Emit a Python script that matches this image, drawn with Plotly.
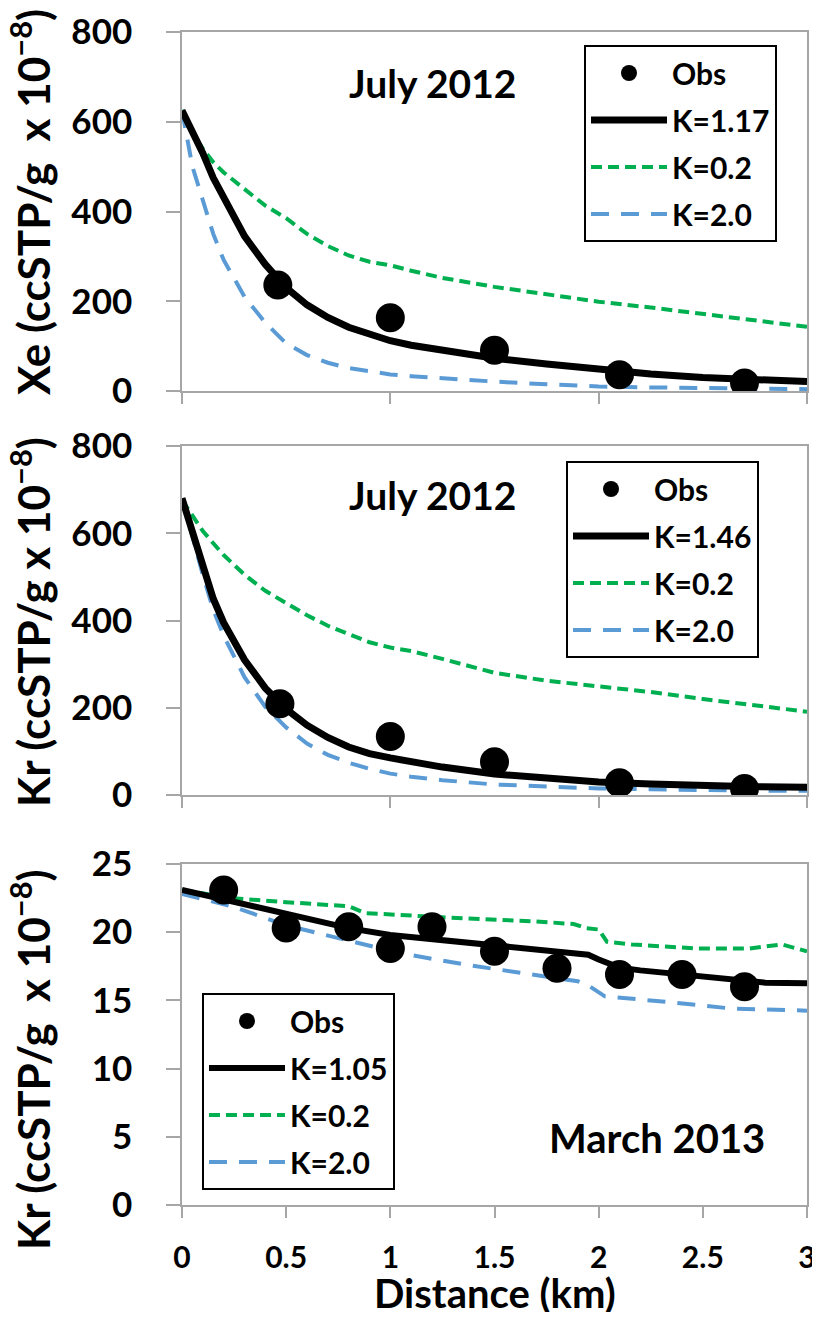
import plotly.graph_objects as go

# ---------------- data ----------------
# Panel 1: Xe, July 2012
xe_obs_x = [0.46, 1.0, 1.5, 2.1, 2.7]
xe_obs_y = [236, 163, 91, 36, 18]
xe_k117_x = [0, 0.05, 0.1, 0.15, 0.2, 0.3, 0.4, 0.5, 0.6, 0.7, 0.8, 0.9, 1.0, 1.1, 1.25, 1.5, 1.75, 2.0, 2.25, 2.5, 2.75, 3.0]
xe_k117_y = [625, 580, 530, 475, 430, 345, 282, 230, 192, 164, 142, 125, 112, 102, 90, 73, 60, 48, 38, 30, 24, 21]
xe_k02_x = [0, 0.05, 0.1, 0.15, 0.2, 0.3, 0.4, 0.5, 0.6, 0.7, 0.8, 0.9, 1.0, 1.1, 1.25, 1.5, 1.75, 2.0, 2.25, 2.5, 2.75, 3.0]
xe_k02_y = [626, 575, 540, 510, 487, 450, 413, 385, 350, 323, 302, 288, 280, 268, 252, 232, 215, 199, 186, 172, 158, 143]
xe_k20_x = [0, 0.05, 0.1, 0.15, 0.2, 0.3, 0.4, 0.5, 0.6, 0.7, 0.8, 0.9, 1.0, 1.1, 1.25, 1.5, 1.75, 2.0, 2.25, 2.5, 2.75, 3.0]
xe_k20_y = [626, 500, 425, 350, 292, 210, 152, 106, 80, 63, 51, 43, 37, 33, 28, 21, 15, 10, 8, 6, 5, 4]

# Panel 2: Kr, July 2012
krj_obs_x = [0.47, 1.0, 1.5, 2.1, 2.7]
krj_obs_y = [209, 134, 76, 28, 15]
krj_k146_x = [0, 0.05, 0.1, 0.15, 0.2, 0.3, 0.4, 0.5, 0.6, 0.7, 0.8, 0.9, 1.0, 1.1, 1.25, 1.5, 1.75, 2.0, 2.25, 2.5, 2.75, 3.0]
krj_k146_y = [680, 600, 525, 450, 395, 310, 245, 197, 160, 132, 110, 95, 85, 76, 64, 48, 38, 30, 25, 21, 19, 18]
krj_k02_x = [0, 0.05, 0.1, 0.15, 0.2, 0.3, 0.4, 0.5, 0.6, 0.7, 0.8, 0.9, 1.0, 1.1, 1.25, 1.5, 1.75, 2.0, 2.25, 2.5, 2.75, 3.0]
krj_k02_y = [676, 640, 605, 577, 550, 505, 468, 440, 412, 388, 368, 350, 338, 330, 312, 280, 262, 250, 236, 220, 206, 191]
krj_k20_x = [0, 0.05, 0.1, 0.15, 0.2, 0.3, 0.4, 0.5, 0.6, 0.7, 0.8, 0.9, 1.0, 1.1, 1.25, 1.5, 1.75, 2.0, 2.25, 2.5, 2.75, 3.0]
krj_k20_y = [680, 590, 505, 425, 365, 270, 202, 155, 118, 92, 74, 60, 49, 42, 34, 24, 19, 15, 13, 11, 10, 10]

# Panel 3: Kr, March 2013
krm_obs_x = [0.2, 0.5, 0.8, 1.0, 1.2, 1.5, 1.8, 2.1, 2.4, 2.7]
krm_obs_y = [23.1, 20.3, 20.4, 18.8, 20.4, 18.6, 17.35, 16.9, 16.9, 16.0]
krm_k105_x = [0, 0.2, 0.5, 0.8, 1.0, 1.2, 1.5, 1.8, 1.95, 2.0, 2.1, 2.2, 2.4, 2.6, 2.8, 3.0]
krm_k105_y = [23.1, 22.4, 21.4, 20.3, 19.8, 19.5, 19.0, 18.6, 18.35, 18.0, 17.4, 17.2, 16.9, 16.5, 16.3, 16.25]
krm_k02_x = [0, 0.24, 0.5, 0.8, 0.88, 1.0, 1.37, 1.69, 1.88, 1.94, 2.0, 2.04, 2.16, 2.48, 2.72, 2.88, 3.0]
krm_k02_y = [23.1, 22.5, 22.2, 21.9, 21.4, 21.3, 21.0, 20.8, 20.6, 20.3, 20.2, 19.3, 19.1, 18.8, 18.8, 19.1, 18.6]
krm_k20_x = [0, 0.24, 0.5, 0.8, 1.0, 1.05, 1.37, 1.69, 1.9, 1.95, 2.03, 2.32, 2.64, 3.0]
krm_k20_y = [22.8, 21.9, 20.5, 19.4, 18.7, 18.45, 17.6, 16.9, 16.4, 16.1, 15.3, 14.9, 14.4, 14.25]

panel_titles = ["Xe (ccSTP/g\u00a0\u00a0x 10<sup>\u22128</sup>)",
                "Kr (ccSTP/g x 10<sup>\u22128</sup>)",
                "Kr (ccSTP/g\u00a0\u00a0x 10<sup>\u22128</sup>)"]
panel_dates = ["July 2012", "July 2012", "March 2013"]
fit_labels = ["K=1.17", "K=1.46", "K=1.05"]
x_ticks = [0, 0.5, 1, 1.5, 2, 2.5, 3]
x_tick_text = ["0", "0.5", "1", "1.5", "2", "2.5", "3"]

# ---------------- style ----------------
OFF = 8                      # default page body margin
W, H = 820 - 2 * OFF, 1320 - 2 * OFF
FONT = "Lato"
GREEN = "#00b050"
BLUE = "#5b9bd5"
AXIS = "#a6a6a6"

def fx(px):
    return (px - OFF) / W

def fy(px):
    return 1 - (px - OFF) / H

fig = go.Figure()

panels = [
    dict(obs=(xe_obs_x, xe_obs_y), fit=(xe_k117_x, xe_k117_y), lo=(xe_k02_x, xe_k02_y), hi=(xe_k20_x, xe_k20_y)),
    dict(obs=(krj_obs_x, krj_obs_y), fit=(krj_k146_x, krj_k146_y), lo=(krj_k02_x, krj_k02_y), hi=(krj_k20_x, krj_k20_y)),
    dict(obs=(krm_obs_x, krm_obs_y), fit=(krm_k105_x, krm_k105_y), lo=(krm_k02_x, krm_k02_y), hi=(krm_k20_x, krm_k20_y)),
]
legend_names = ["legend", "legend2", "legend3"]

for i, p in enumerate(panels):
    ax = "" if i == 0 else str(i + 1)
    xa, ya = "x" + ax, "y" + ax
    lg = legend_names[i]
    fig.add_trace(go.Scatter(x=p["lo"][0], y=p["lo"][1], mode="lines", name="K=0.2",
                             line=dict(color=GREEN, width=4, dash="11px,6px"),
                             xaxis=xa, yaxis=ya, legend=lg, legendrank=3, legendgroup=f"g{i}c"))
    fig.add_trace(go.Scatter(x=p["hi"][0], y=p["hi"][1], mode="lines", name="K=2.0",
                             line=dict(color=BLUE, width=4, dash="18px,12px"),
                             xaxis=xa, yaxis=ya, legend=lg, legendrank=4, legendgroup=f"g{i}d"))
    fig.add_trace(go.Scatter(x=p["fit"][0], y=p["fit"][1], mode="lines", name=fit_labels[i],
                             line=dict(color="black", width=7 if i < 2 else 6),
                             xaxis=xa, yaxis=ya, legend=lg, legendrank=2, legendgroup=f"g{i}b"))
    fig.add_trace(go.Scatter(x=p["obs"][0], y=p["obs"][1], mode="markers", name="Obs",
                             marker=dict(color="black", size=29),
                             xaxis=xa, yaxis=ya, legend=lg, legendrank=1, legendgroup=f"g{i}a"))

xdom = [fx(182), fx(807)]
ydoms = [[fy(391), fy(32)], [fy(795), fy(446)], [fy(1205), fy(864)]]
yranges = [[0, 800], [0, 800], [0, 25]]
ydt = [200, 200, 5]

layout = dict(
    width=W, height=H, autosize=False,
    margin=dict(l=0, r=0, t=0, b=0, autoexpand=False),
    paper_bgcolor="white", plot_bgcolor="white",
    font=dict(family=FONT, size=34, color="black", weight="bold"),
    showlegend=True,
)

for i in range(3):
    ax = "" if i == 0 else str(i + 1)
    bottom = (i == 2)
    xa = dict(
        domain=xdom, range=[0, 3], anchor="y" + ax,
        tickmode="array", tickvals=x_ticks if bottom else [0, 1, 2, 3],
        showticklabels=bottom, ticks="outside", ticklen=11, tickwidth=1.5, tickcolor=AXIS,
        showline=True, linecolor=AXIS, linewidth=1.5, mirror=True,
        showgrid=False, zeroline=False, fixedrange=True, automargin=False,
        tickfont=dict(family=FONT, size=30, color="black", weight="bold"),
        ticklabelstandoff=14, ticklabeloverflow="allow",
    )
    if bottom:
        xa["ticktext"] = x_tick_text
    layout["xaxis" + ax] = xa
    layout["yaxis" + ax] = dict(
        domain=ydoms[i], range=yranges[i], anchor="x" + ax, dtick=ydt[i],
        ticks="outside", ticklen=14, tickwidth=1.5, tickcolor=AXIS,
        showline=True, linecolor=AXIS, linewidth=1.5, mirror=True,
        showgrid=False, zeroline=False, fixedrange=True, automargin=False,
        tickfont=dict(family=FONT, size=35, color="black", weight="bold"),
        ticklabelstandoff=27,
    )

leg_common = dict(bgcolor="white", bordercolor="black", borderwidth=2,
                  font=dict(family=FONT, size=30, color="black", weight="bold"),
                  itemwidth=76, xanchor="left", yanchor="top", traceorder="grouped",
                  tracegroupgap=5, itemclick=False, itemdoubleclick=False)
layout["legend"] = dict(x=fx(584), y=fy(45), **leg_common)
layout["legend2"] = dict(x=fx(566), y=fy(461), **leg_common)
layout["legend3"] = dict(x=fx(202), y=fy(993), **leg_common)

annotations = []
date_pos = [(432, 83, 39), (432, 495, 39), (657, 1138, 40)]
for (px_, py_, fs), txt in zip(date_pos, panel_dates):
    annotations.append(dict(text=txt, x=fx(px_), y=fy(py_), xref="paper", yref="paper",
                            showarrow=False, xanchor="center", yanchor="middle",
                            font=dict(family=FONT, size=fs, color="black", weight="bold")))
title_pos = [(30, 202), (30, 622), (30, 1060)]
for (px_, py_), txt in zip(title_pos, panel_titles):
    annotations.append(dict(text=txt, x=fx(px_), y=fy(py_), xref="paper", yref="paper",
                            showarrow=False, xanchor="center", yanchor="middle", textangle=-90,
                            font=dict(family=FONT, size=44, color="black", weight="bold")))
annotations.append(dict(text="Distance (km)", x=fx(495), y=fy(1293), xref="paper", yref="paper",
                        showarrow=False, xanchor="center", yanchor="middle",
                        font=dict(family=FONT, size=40, color="black", weight="bold")))
layout["annotations"] = annotations

fig.update_layout(**layout)
fig.write_html("out.html")
